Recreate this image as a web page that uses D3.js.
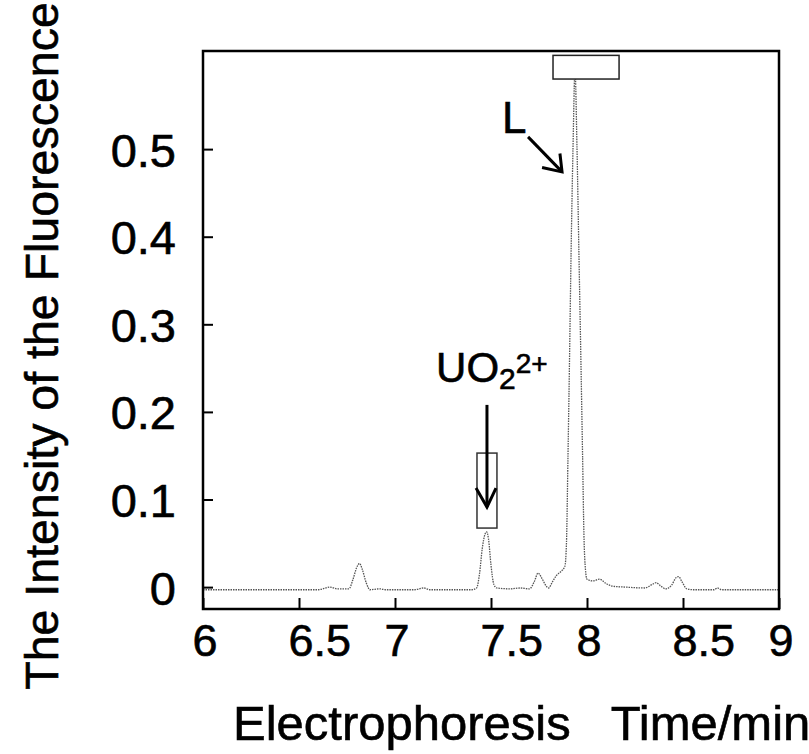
<!DOCTYPE html>
<html>
<head>
<meta charset="utf-8">
<script src="https://cdn.jsdelivr.net/npm/d3@7"></script>
<style>
  body { margin: 0; background: #fff; }
  svg { display: block; font-family: "Liberation Sans", Arial, Helvetica, sans-serif; }
  svg text { stroke: #000; stroke-width: 0.6px; }
</style>
</head>
<body>
<div id="chart"></div>
<script>
// electropherogram trace
const times = [6.00, 6.30, 6.60, 6.64, 6.66, 6.70, 6.76, 6.78, 6.80, 6.815, 6.83, 6.85, 6.87, 6.92, 6.95,
  7.10, 7.15, 7.18, 7.40, 7.425, 7.44, 7.455, 7.468, 7.477, 7.487, 7.50, 7.515, 7.53, 7.60, 7.65,
  7.70, 7.725, 7.745, 7.765, 7.785, 7.80, 7.82, 7.84, 7.865, 7.885, 7.893, 7.901, 7.909, 7.917, 7.927,
  7.9375, 7.948, 7.958, 7.969, 7.977, 7.984, 7.992, 8.00, 8.03, 8.065, 8.10, 8.135, 8.20, 8.30, 8.34,
  8.36, 8.38, 8.41, 8.44, 8.465, 8.477, 8.495, 8.52, 8.55, 8.66, 8.68, 8.70, 9.00];
const intensity = [-0.003, -0.003, -0.003, -0.001, 0.000, -0.002, -0.002, 0.008, 0.022, 0.027, 0.020, 0.005, -0.003, -0.002, -0.003,
  -0.003, -0.001, -0.003, -0.003, -0.001, 0.015, 0.045, 0.060, 0.063, 0.055, 0.025, 0.003, -0.001, -0.002, -0.001,
  -0.002, 0.006, 0.016, 0.010, 0.002, -0.001, 0.006, 0.013, 0.018, 0.024, 0.05, 0.15, 0.26, 0.38, 0.50,
  0.59, 0.50, 0.38, 0.25, 0.15, 0.06, 0.020, 0.009, 0.007, 0.009, 0.004, 0.001, 0.000, -0.001, 0.003,
  0.005, 0.002, -0.002, 0.002, 0.011, 0.012, 0.006, -0.002, -0.003, -0.003, -0.001, -0.003, -0.003];

const xTicks = [6, 6.5, 7, 7.5, 8, 8.5, 9];
const yTicks = [0, 0.1, 0.2, 0.3, 0.4, 0.5];

const width = 809, height = 754;
const m = { left: 203, right: 779, top: 51, bottom: 609 };

let svg = d3.select("#chart").append("svg").attr("width", width).attr("height", height);

let x = d3.scaleLinear().domain([6, 9]).range([m.left, m.right]);
let y = d3.scaleLinear().domain([-0.025, 0.612]).range([m.bottom, m.top]);

// trace
let line = d3.line().x(function (d, i) { return x(times[i]); }).y(function (d) { return y(d); })
  .curve(d3.curveMonotoneX);
svg.append("path").datum(intensity).attr("d", line)
  .attr("fill", "none").attr("stroke", "#555").attr("stroke-width", 1.3)
  .attr("stroke-dasharray", "1.5,1");

// axes, ticks pointing inward
let xAxis = svg.append("g").attr("transform", "translate(0," + m.bottom + ")")
  .call(d3.axisBottom(x).tickValues(xTicks).tickFormat(function (d) { return d; })
    .tickSize(-11).tickSizeOuter(0));
xAxis.selectAll("text").attr("y", 47).attr("dy", null).attr("dx", -11)
  .attr("text-anchor", "start").attr("font-size", "45px").attr("fill", "#000");

let yAxis = svg.append("g").attr("transform", "translate(" + m.left + ",0)")
  .call(d3.axisLeft(y).tickValues(yTicks).tickFormat(function (d) { return d; })
    .tickSize(-10).tickSizeOuter(0));
yAxis.selectAll("text").attr("x", -27).attr("dy", "0.36em")
  .attr("font-size", "47px").attr("fill", "#000");

svg.selectAll(".tick line").attr("stroke", "#000").attr("stroke-width", 2);
svg.selectAll(".domain").remove();
svg.append("rect").attr("x", m.left).attr("y", m.top).attr("width", m.right - m.left).attr("height", m.bottom - m.top)
  .attr("fill", "none").attr("stroke", "#000").attr("stroke-width", 2.5);

// axis titles
svg.append("text").attr("transform", "rotate(-90)").attr("x", -346).attr("y", 58)
  .attr("text-anchor", "middle").attr("font-size", "46.5px")
  .text("The Intensity of the Fluorescence");
svg.append("text").attr("x", 233).attr("y", 740).attr("font-size", "49px")
  .style("white-space", "pre")
  .text("Electrophoresis   Time/min");

// annotations
function arrow(x1, y1, x2, y2, w1, w2) {
  let g = svg.append("g").attr("stroke", "#000").attr("stroke-width", 3).attr("fill", "none");
  g.append("line").attr("x1", x(x1)).attr("y1", y(y1)).attr("x2", x(x2)).attr("y2", y(y2));
  g.append("polyline").attr("points", [[x(w1[0]), y(w1[1])], [x(x2), y(y2)], [x(w2[0]), y(w2[1])]].join(" "));
}

// L peak
svg.append("rect").attr("x", x(7.823)).attr("y", y(0.607)).attr("width", x(8.167) - x(7.823))
  .attr("height", y(0.58) - y(0.607)).attr("fill", "#fff").attr("stroke", "#222").attr("stroke-width", 1.5);
svg.append("text").attr("x", x(7.557)).attr("y", y(0.518)).attr("font-size", "44px").text("L");
arrow(7.693, 0.514, 7.870, 0.474, [7.766, 0.479], [7.859, 0.495]);

// UO2 2+ peak
svg.append("rect").attr("x", x(7.427)).attr("y", y(0.153)).attr("width", x(7.531) - x(7.427))
  .attr("height", y(0.0674) - y(0.153)).attr("fill", "none").attr("stroke", "#333").attr("stroke-width", 1.5);
let uo = svg.append("text").attr("x", x(7.214)).attr("y", y(0.234)).attr("font-size", "42px");
uo.append("tspan").text("UO");
uo.append("tspan").attr("font-size", "30px").attr("dy", 7).text("2");
uo.append("tspan").attr("font-size", "28px").attr("dy", -16).text("2+");
arrow(7.479, 0.208, 7.479, 0.0913, [7.422, 0.113], [7.526, 0.113]);
</script>
</body>
</html>
